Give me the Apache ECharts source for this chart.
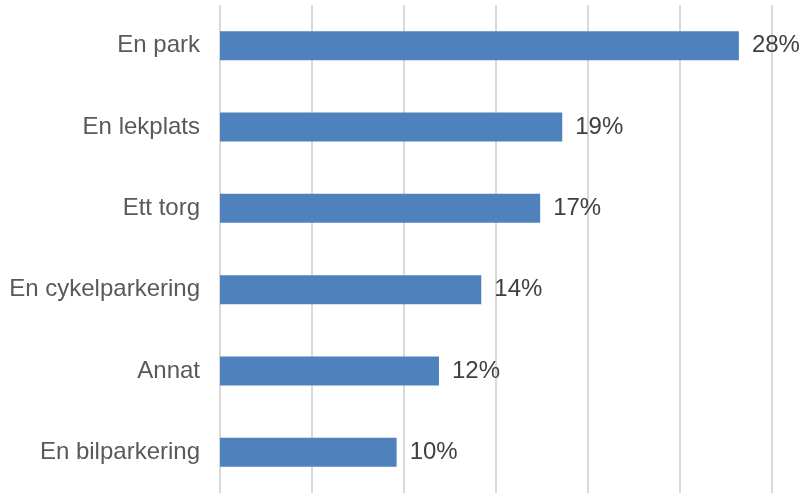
<!DOCTYPE html>
<html>
<head>
<meta charset="utf-8">
<script src="https://cdn.jsdelivr.net/npm/echarts@6/dist/echarts.min.js"></script>
<style>
  html, body { margin: 0; padding: 0; background: #fff; }
</style>
</head>
<body>
<div id="chart" style="width: 806px; height: 493px"></div>
<script>
// categories, bottom to top as echarts draws them
const categories = ["En bilparkering", "Annat", "En cykelparkering", "Ett torg", "En lekplats", "En park"];
const shares = [9.6, 11.9, 14.2, 17.4, 18.6, 28.2]; // percent

const chart = echarts.init(document.getElementById("chart"));
chart.setOption({
  animation: false,
  grid: { left: 220, right: 34, top: 5, height: 490, containLabel: false },
  xAxis: {
    type: "value",
    min: 0,
    max: 30,
    interval: 5,
    axisLabel: { show: false },
    axisTick: { show: false },
    axisLine: { show: false },
    splitLine: { lineStyle: { color: "#d9d9d9", width: 2 } },
  },
  yAxis: {
    type: "category",
    data: categories,
    axisTick: { show: false },
    axisLine: { show: false },
    axisLabel: {
      margin: 20,
      color: "#595959",
      fontSize: 24,
      fontFamily: "Liberation Sans",
    },
  },
  series: [
    {
      type: "bar",
      data: shares,
      barWidth: 29,
      itemStyle: { color: "#4f81bd" },
      label: {
        show: true,
        position: "right",
        distance: 13,
        color: "#404040",
        fontSize: 24,
        fontFamily: "Liberation Sans",
        formatter: (p) => Math.round(p.value) + "%",
      },
    },
  ],
});
</script>
</body>
</html>
